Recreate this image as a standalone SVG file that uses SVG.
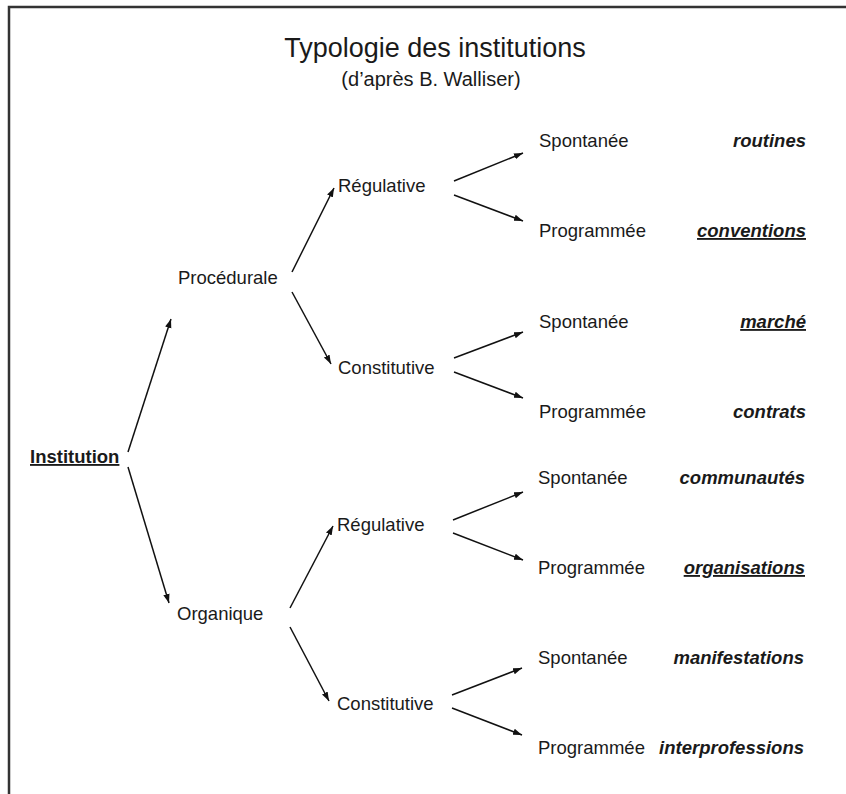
<svg xmlns="http://www.w3.org/2000/svg" width="846" height="794" viewBox="0 0 846 794">
<defs>
<marker id="ah" markerUnits="userSpaceOnUse" markerWidth="10" markerHeight="8" refX="9" refY="4" orient="auto">
<path d="M0,0.8 L9,4 L0,7.2 Z" fill="#111"/>
</marker>
<style>
text{font-family:"Liberation Sans",Arial,Helvetica,sans-serif;fill:#1a1a1a;}
.t{font-size:27px;text-anchor:middle;}
.st{font-size:20px;text-anchor:middle;}
.n{font-size:18.5px;}
.root{font-size:18.5px;font-weight:bold;text-decoration:underline;}
.ex{font-size:18.5px;font-weight:bold;font-style:italic;text-anchor:end;}
.u{text-decoration:underline;}
.c line{stroke:#111;stroke-width:1.5;marker-end:url(#ah);}
.frame{stroke:#333;stroke-width:2.5;fill:none;}
</style>
</defs>
<rect x="0" y="0" width="846" height="794" fill="#fff"/>
<path class="frame" d="M846,7 L9,7 L9,794"/>
<g id="title">
<text class="t" x="435" y="57">Typologie des institutions</text>
<text class="st" x="431" y="86">(d’après B. Walliser)</text>
</g>
<g id="institution"><text class="root" x="30" y="463">Institution</text></g>
<g id="procedurale"><text class="n" x="178" y="284">Procédurale</text></g>
<g id="organique"><text class="n" x="177" y="620">Organique</text></g>
<g id="regulative1"><text class="n" x="338" y="192">Régulative</text></g>
<g id="constitutive1"><text class="n" x="338" y="374">Constitutive</text></g>
<g id="regulative2"><text class="n" x="337" y="531">Régulative</text></g>
<g id="constitutive2"><text class="n" x="337" y="710">Constitutive</text></g>
<g id="spontanee1"><text class="n" x="539" y="147">Spontanée</text><text class="ex" x="806" y="147">routines</text></g>
<g id="programmee1"><text class="n" x="539" y="237">Programmée</text><text class="ex u" x="806" y="237">conventions</text></g>
<g id="spontanee2"><text class="n" x="539" y="328">Spontanée</text><text class="ex u" x="806" y="328">marché</text></g>
<g id="programmee2"><text class="n" x="539" y="418">Programmée</text><text class="ex" x="806" y="418">contrats</text></g>
<g id="spontanee3"><text class="n" x="538" y="484">Spontanée</text><text class="ex" x="805" y="484">communautés</text></g>
<g id="programmee3"><text class="n" x="538" y="574">Programmée</text><text class="ex u" x="805" y="574">organisations</text></g>
<g id="spontanee4"><text class="n" x="538" y="664">Spontanée</text><text class="ex" x="804" y="664">manifestations</text></g>
<g id="programmee4"><text class="n" x="538" y="754">Programmée</text><text class="ex" x="804" y="754">interprofessions</text></g>
<g id="connectors" class="c">
<line x1="128" y1="452" x2="171" y2="319"/>
<line x1="128" y1="467" x2="169" y2="603"/>
<line x1="292" y1="272" x2="334" y2="188"/>
<line x1="292" y1="292" x2="331" y2="364"/>
<line x1="290" y1="608" x2="333" y2="526"/>
<line x1="290" y1="627" x2="329" y2="701"/>
<line x1="454" y1="181" x2="523" y2="153"/>
<line x1="454" y1="195" x2="523" y2="221"/>
<line x1="454" y1="358" x2="523" y2="332"/>
<line x1="454" y1="372" x2="523" y2="398"/>
<line x1="453" y1="520" x2="523" y2="492"/>
<line x1="453" y1="533" x2="523" y2="560"/>
<line x1="452" y1="695" x2="522" y2="668"/>
<line x1="452" y1="708" x2="522" y2="735"/>
</g>
</svg>
